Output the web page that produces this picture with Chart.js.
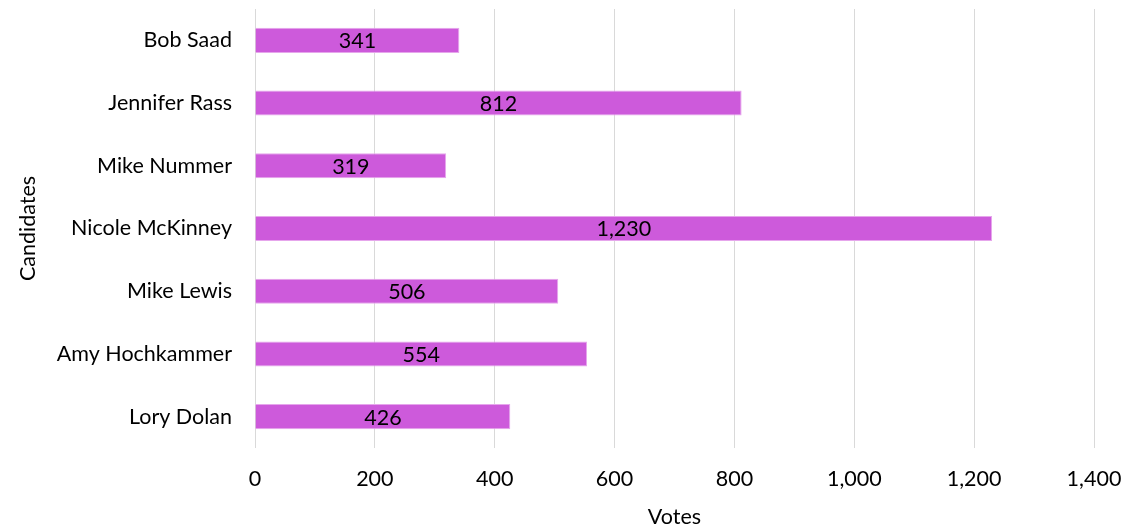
<!DOCTYPE html>
<html>
<head>
<meta charset="utf-8">
<script src="https://cdn.jsdelivr.net/npm/chart.js@4/dist/chart.umd.min.js"></script>
<style>
  html, body { margin: 0; padding: 0; background: #fff; }
  #wrap { width: 1135px; height: 530px; }
</style>
</head>
<body>
<div id="wrap"><canvas id="votesChart"></canvas></div>
<script>
var candidates = ['Bob Saad', 'Jennifer Rass', 'Mike Nummer', 'Nicole McKinney', 'Mike Lewis', 'Amy Hochkammer', 'Lory Dolan'];
var votes = [341, 812, 319, 1230, 506, 554, 426];
var xTicks = [0, 200, 400, 600, 800, 1000, 1200, 1400];

var FONT = "Lato, 'Open Sans', sans-serif";
var FSIZE = 21.5;

// values written in the middle of each bar
var barLabels = {
    id: 'barLabels',
    afterDatasetsDraw: function (chart) {
        var ctx = chart.ctx;
        var meta = chart.getDatasetMeta(0);
        ctx.save();
        ctx.font = FSIZE + 'px ' + FONT;
        ctx.fillStyle = '#000';
        ctx.textAlign = 'center';
        ctx.textBaseline = 'middle';
        meta.data.forEach(function (bar, i) {
            var x = (bar.x + bar.base) / 2;
            ctx.fillText(votes[i].toLocaleString('en-US'), x, bar.y + 1);
        });
        ctx.restore();
    }
};

var ctx = document.getElementById('votesChart').getContext('2d');
var chart = new Chart(ctx, {
    type: 'bar',
    data: {
        labels: candidates,
        datasets: [{
            data: votes,
            backgroundColor: '#CD5ADB',
            borderColor: '#E6A6EC',
            borderWidth: 1,
            categoryPercentage: 1.0,
            barPercentage: 0.4
        }]
    },
    options: {
        indexAxis: 'y',
        responsive: true,
        maintainAspectRatio: false,
        animation: false,
        layout: { padding: { top: 9, right: 41, bottom: 0, left: 0 } },
        plugins: {
            legend: { display: false },
            tooltip: { enabled: false }
        },
        scales: {
            x: {
                min: 0,
                max: 1400,
                afterBuildTicks: function (axis) {
                    axis.ticks = xTicks.map(function (v) { return { value: v }; });
                },
                afterFit: function (axis) {
                    axis.height = 82;
                    axis.paddingLeft = 0;
                    axis.paddingRight = 0;
                },
                grid: { color: '#D9D9D9', lineWidth: 1, drawTicks: true, tickLength: 18, tickColor: 'rgba(0,0,0,0)' },
                border: { display: false },
                ticks: {
                    padding: 0,
                    color: '#000',
                    font: { family: FONT, size: FSIZE },
                    maxRotation: 0,
                    callback: function (v) { return Number(v).toLocaleString('en-US'); }
                },
                title: {
                    display: true,
                    text: 'Votes',
                    color: '#000',
                    font: { family: FONT, size: FSIZE },
                    padding: { top: 0, bottom: 0 }
                }
            },
            y: {
                afterFit: function (axis) {
                    axis.width = 255;
                    axis.paddingTop = 0;
                    axis.paddingBottom = 0;
                },
                grid: { display: true, drawOnChartArea: false, drawTicks: true, tickLength: 23, color: 'rgba(0,0,0,0)', tickColor: 'rgba(0,0,0,0)' },
                border: { display: false },
                ticks: {
                    padding: 0,
                    color: '#000',
                    font: { family: FONT, size: FSIZE }
                },
                title: {
                    display: true,
                    text: 'Candidates',
                    color: '#000',
                    font: { family: FONT, size: FSIZE },
                    padding: { top: 15, bottom: 0 }
                }
            }
        }
    },
    plugins: [barLabels]
});
</script>
</body>
</html>
